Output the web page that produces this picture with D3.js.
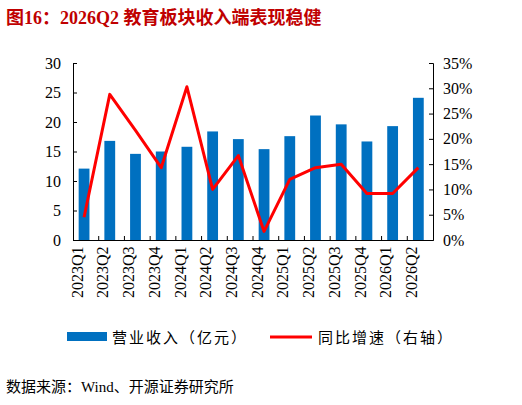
<!DOCTYPE html>
<html><head><meta charset="utf-8">
<script src="https://cdn.jsdelivr.net/npm/d3@7"></script>
<style>body{margin:0;background:#fff}svg{font-family:"Liberation Serif","Noto Sans CJK SC",serif}</style>
</head><body><svg width="522" height="405"></svg>
<script>
var categories = ['2023Q1','2023Q2','2023Q3','2023Q4','2024Q1','2024Q2','2024Q3','2024Q4','2025Q1','2025Q2','2025Q3','2025Q4','2026Q1','2026Q2']
var revenue = [12.1, 16.8, 14.6, 15.0, 15.8, 18.4, 17.1, 15.4, 17.6, 21.1, 19.6, 16.7, 19.3, 24.1]
var growth = [4.5, 28.8, 21.7, 14.3, 30.3, 10.0, 16.7, 1.7, 12.0, 14.3, 15.0, 9.2, 9.2, 14.3]
var leftTicks = [0, 5, 10, 15, 20, 25, 30]
var rightTicks = [0, 5, 10, 15, 20, 25, 30, 35]

var svg = d3.select('svg')
var conf = { left: 73, right: 433, top: 63, bottom: 240 }

svg.append('text').attr('x', 6).attr('y', 24)
  .attr('font-size', 18).attr('font-weight', 'bold').attr('fill', '#c00000')
  .text('图16：2026Q2 教育板块收入端表现稳健')

var xb = d3.scaleBand().domain(categories).range([conf.left, conf.right])
var y = d3.scaleLinear().domain([0, 30]).range([conf.bottom, conf.top])
var y2 = d3.scaleLinear().domain([0, 35]).range([conf.bottom, conf.top])

// Bars
svg.selectAll('rect.bar').data(revenue).enter().append('rect')
  .attr('x', function (d, i) { return xb(categories[i]) + xb.bandwidth() * 0.22 })
  .attr('width', xb.bandwidth() * 0.42)
  .attr('y', function (d) { return y(d) })
  .attr('height', function (d) { return conf.bottom - y(d) })
  .attr('fill', '#0070c0')

// Axes
var gl = svg.append('g').attr('transform', 'translate(' + conf.left + ',0)')
  .call(d3.axisLeft(y).tickValues(leftTicks).tickSize(-4).tickPadding(12))
var gr = svg.append('g').attr('transform', 'translate(' + conf.right + ',0)')
  .call(d3.axisRight(y2).tickValues(rightTicks).tickSize(-4).tickPadding(10).tickFormat(function (d) { return d + '%' }))
var gb = svg.append('g').attr('transform', 'translate(0,' + conf.bottom + ')')
  .call(d3.axisBottom(xb).tickSize(0).tickPadding(6))
gb.selectAll('text').attr('transform', 'rotate(-90)').attr('text-anchor', 'end')
  .attr('dx', '-0.4em').attr('dy', '-0.2em').attr('x', 0).attr('y', 0)
svg.selectAll('line.sep').data(categories.slice(1)).enter().append('line')
  .attr('x1', function (d) { return xb(d) }).attr('x2', function (d) { return xb(d) })
  .attr('y1', conf.bottom).attr('y2', conf.bottom - 4).attr('stroke', '#000')
;[gl, gr, gb].forEach(function (g) {
  g.selectAll('path').attr('stroke', '#000')
  g.selectAll('text').attr('font-size', 16).attr('fill', '#000').attr('font-family', '"Liberation Serif",serif')
})

// Line
var line = d3.line()
  .x(function (d, i) { return xb(categories[i]) + xb.bandwidth() * 0.43 })
  .y(function (d) { return y2(d) })
svg.append('path').datum(growth).attr('d', line)
  .attr('fill', 'none').attr('stroke', '#ff0000').attr('stroke-width', 3).attr('stroke-linejoin', 'round')

// Legend
var lg = svg.append('g').attr('font-size', 15).attr('letter-spacing', 2)
lg.append('rect').attr('x', 67).attr('y', 332).attr('width', 40).attr('height', 9).attr('fill', '#0070c0')
lg.append('text').attr('x', 112).attr('y', 343).text('营业收入（亿元）')
lg.append('line').attr('x1', 270).attr('x2', 312).attr('y1', 337).attr('y2', 337).attr('stroke', '#ff0000').attr('stroke-width', 3)
lg.append('text').attr('x', 318).attr('y', 343).text('同比增速（右轴）')

svg.append('text').attr('x', 6).attr('y', 392).attr('font-size', 15).text('数据来源：Wind、开源证券研究所')
</script></body></html>
